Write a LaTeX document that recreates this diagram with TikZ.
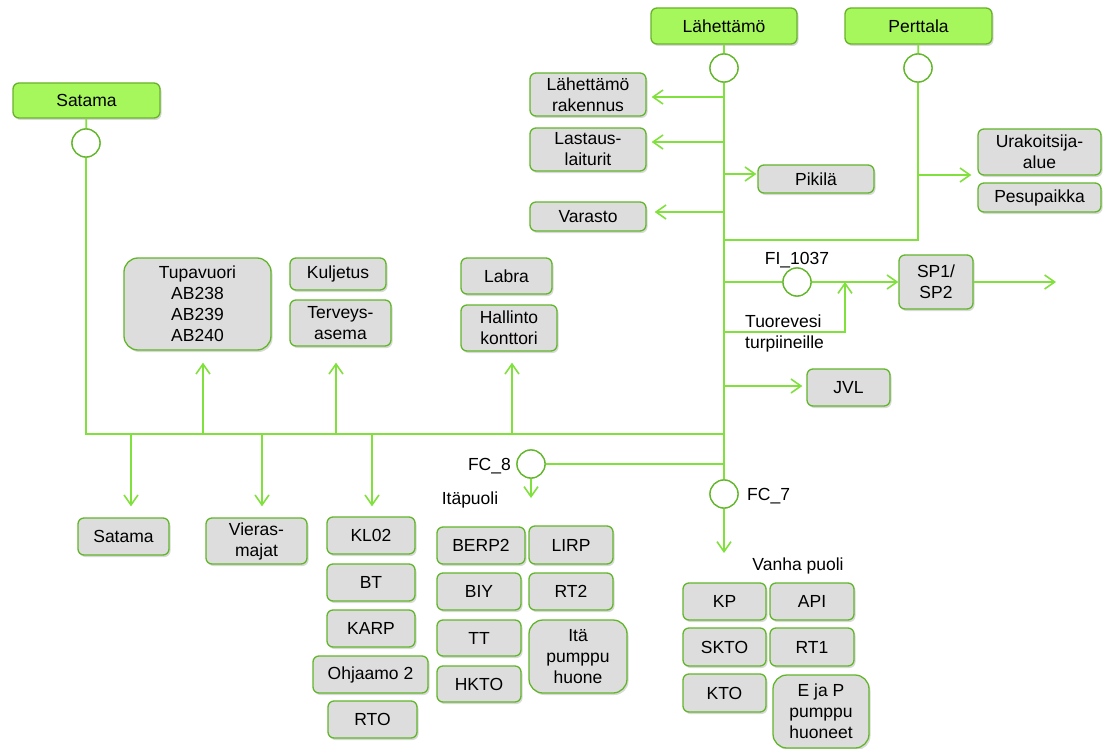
\documentclass[tikz,border=0pt]{standalone}
\usepackage{fontspec}
\setmainfont{Liberation Sans}
\usetikzlibrary{arrows.meta,shadows}

\definecolor{hdrfill}{HTML}{A6F75C}
\definecolor{hdrdraw}{HTML}{68B22A}
\definecolor{boxfill}{HTML}{DDDDDD}
\definecolor{boxdraw}{HTML}{62B62A}
\definecolor{pipe}{HTML}{80E03C}
\definecolor{meter}{HTML}{62B62A}

\tikzset{
  hdr/.style={draw=hdrdraw, line width=1.3pt, fill=hdrfill, rounded corners=6pt,
    inner sep=0pt, align=center,
    drop shadow={shadow xshift=1.5pt, shadow yshift=-2pt, opacity=0.3}},
  gbox/.style={draw=boxdraw, line width=1.3pt, fill=boxfill, rounded corners=6pt,
    inner sep=0pt, align=center,
    drop shadow={shadow xshift=1.5pt, shadow yshift=-2pt, opacity=0.3}},
  bigbox/.style={gbox, rounded corners=14pt},
  meterc/.style={circle, draw=meter, line width=1.3pt, fill=white, inner sep=0pt,
    minimum size=28pt},
  pipeline/.style={draw=pipe, line width=1.8pt},
  flow/.style={pipeline, -{Straight Barb[length=10pt,width=14pt,line width=1.6pt]}},
  lbl/.style={inner sep=0pt, align=left}
}

% box by its corners: style, name, x1, y1, x2, y2, text
\newcommand\cornerbox[7]{%
  \node[#1, minimum width={(#5-#3)*1pt}, minimum height={(#6-#4)*1pt}]
    (#2) at ({(#3+#5)/2},{(#4+#6)/2}) {#7};}

\begin{document}
\begin{tikzpicture}[x=1pt,y=-1pt,font=\fontsize{17.5pt}{21pt}\selectfont]
\useasboundingbox (0,0) rectangle (1103,749);

% ---- sources ----
\cornerbox{hdr}{hSat}{13}{83}{160}{118}{Satama}
\cornerbox{hdr}{hLah}{651}{8}{797}{44}{Lähettämö}
\cornerbox{hdr}{hPer}{845}{8}{992}{44}{Perttala}

% ---- meters ----
\node[meterc] (cSat) at (86,143) {};
\node[meterc] (cLah) at (724,68) {};
\node[meterc] (cPer) at (918,68) {};
\node[meterc] (cFI) at (797,282) {};
\node[meterc] (cFC8) at (531,464) {};
\node[meterc] (cFC7) at (724,494) {};

% ---- consumers, upper right ----
\cornerbox{gbox}{rak}{530}{73}{646}{116}{Lähettämö\\rakennus}
\cornerbox{gbox}{las}{530}{128}{646}{171}{Lastaus-\\laiturit}
\cornerbox{gbox}{pik}{758}{165}{874}{193}{Pikilä}
\cornerbox{gbox}{var}{530}{202}{646}{231}{Varasto}
\cornerbox{gbox}{ura}{978}{129}{1101}{175}{Urakoitsija-\\alue}
\cornerbox{gbox}{pes}{978}{183}{1101}{212}{Pesupaikka}
\cornerbox{gbox}{sp}{899}{255}{973}{309}{SP1/\\SP2}
\cornerbox{gbox}{jvl}{807}{369}{890}{406}{JVL}

% ---- consumers along the lower main ----
\cornerbox{bigbox}{tup}{124}{258}{271}{350}{Tupavuori\\AB238\\AB239\\AB240}
\cornerbox{gbox}{kul}{290}{258}{386}{290}{Kuljetus}
\cornerbox{gbox}{ter}{290}{300}{391}{346}{Terveys-\\asema}
\cornerbox{gbox}{lab}{461}{258}{552}{294}{Labra}
\cornerbox{gbox}{hal}{461}{305}{557}{351}{Hallinto\\konttori}
\cornerbox{gbox}{sat}{78}{518}{169}{555}{Satama}
\cornerbox{gbox}{vie}{206}{518}{307}{564}{Vieras-\\majat}
\cornerbox{gbox}{kl}{327}{517}{415}{554}{KL02}
\cornerbox{gbox}{bt}{327}{564}{415}{601}{BT}
\cornerbox{gbox}{karp}{327}{610}{415}{647}{KARP}
\cornerbox{gbox}{ohj}{313}{656}{428}{693}{Ohjaamo 2}
\cornerbox{gbox}{rto}{328}{701}{417}{738}{RTO}

% ---- east side (Itäpuoli) ----
\cornerbox{gbox}{berp}{437}{527}{525}{564}{BERP2}
\cornerbox{gbox}{lirp}{529}{526}{613}{564}{LIRP}
\cornerbox{gbox}{biy}{437}{573}{521}{610}{BIY}
\cornerbox{gbox}{rt2}{529}{573}{613}{610}{RT2}
\cornerbox{gbox}{tt}{437}{620}{521}{656}{TT}
\cornerbox{bigbox}{ita}{529}{620}{627}{693}{Itä\\pumppu\\huone}
\cornerbox{gbox}{hkto}{437}{666}{521}{702}{HKTO}

% ---- old side (Vanha puoli) ----
\cornerbox{gbox}{kp}{683}{583}{766}{620}{KP}
\cornerbox{gbox}{api}{770}{583}{854}{620}{API}
\cornerbox{gbox}{skto}{683}{628}{766}{666}{SKTO}
\cornerbox{gbox}{rt1}{770}{628}{854}{666}{RT1}
\cornerbox{gbox}{kto}{683}{674}{766}{712}{KTO}
\cornerbox{bigbox}{ejp}{773}{675}{869}{748}{E ja P\\pumppu\\huoneet}

% ---- labels ----
\node[lbl] (lFI) at (797,260) {FI\_1037};
\node[lbl, anchor=west] (lTuo) at (745,333) {Tuorevesi\\turpiineille};
\node[lbl, anchor=east] (lFC8) at (511,466) {FC\_8};
\node[lbl] (lIta) at (470,500) {Itäpuoli};
\node[lbl, anchor=west] (lFC7) at (747,496) {FC\_7};
\node[lbl] (lVan) at (798,566) {Vanha puoli};

% ---- junction points ----
\coordinate (busL) at (86,434);
\coordinate (busR) at (724,434);
\coordinate (pCorner) at (918,240);
\coordinate (pJoin) at (724,240);
\coordinate (t1) at (724,97);
\coordinate (t2) at (724,142);
\coordinate (t3) at (724,174);
\coordinate (t4) at (724,212);
\coordinate (tFI) at (724,282);
\coordinate (tTuo) at (724,332);
\coordinate (tTuoC) at (845,332);
\coordinate (tTuoE) at (845,282);
\coordinate (tJvl) at (724,386);
\coordinate (t8) at (724,464);
\coordinate (pUra) at (918,175);
\coordinate (spOut) at (1056,282);
\coordinate (d8) at (531,498);
\coordinate (d7) at (724,553);
\coordinate (bTup) at (203,434);
\coordinate (bTer) at (336,434);
\coordinate (bHal) at (512,434);
\coordinate (bSat) at (131,434);
\coordinate (bVie) at (262,434);
\coordinate (bKl) at (372,434);

% ---- pipes ----
\draw[pipeline] (hSat) -- (cSat);
\draw[pipeline] (cSat) -- (busL) -- (busR);
\draw[pipeline] (hLah) -- (cLah);
\draw[pipeline] (cLah) -- (cFC7);
\draw[pipeline] (hPer) -- (cPer);
\draw[pipeline] (cPer) -- (pCorner) -- (pJoin);

\draw[flow, shorten >=5pt] (t1) -- (t1 -| rak.east);
\draw[flow, shorten >=5pt] (t2) -- (t2 -| las.east);
\draw[flow, shorten >=1pt] (t3) -- (t3 -| pik.west);
\draw[flow, shorten >=8pt] (t4) -- (t4 -| var.east);
\draw[flow, shorten >=6pt] (pUra) -- (pUra -| ura.west);

\draw[pipeline] (tFI) -- (cFI);
\draw[flow] (cFI) -- (sp.west);
\draw[flow] (sp.east) -- (spOut);
\draw[flow] (tTuo) -- (tTuoC) -- (tTuoE);
\draw[flow, shorten >=4pt] (tJvl) -- (tJvl -| jvl.west);

\draw[flow, shorten >=12pt] (bTup) -- (bTup |- tup.south);
\draw[flow, shorten >=16pt] (bTer) -- (bTer |- ter.south);
\draw[flow, shorten >=11pt] (bHal) -- (bHal |- hal.south);
\draw[flow, shorten >=11pt] (bSat) -- (bSat |- sat.north);
\draw[flow, shorten >=11pt] (bVie) -- (bVie |- vie.north);
\draw[flow, shorten >=10pt] (bKl) -- (bKl |- kl.north);

\draw[pipeline] (t8) -- (cFC8);
\draw[flow] (cFC8) -- (d8);
\draw[flow] (cFC7) -- (d7);

% meters drawn again on top of the pipes
\foreach \m in {cSat,cLah,cPer,cFI,cFC8,cFC7}
  \node[meterc] at (\m) {};
\end{tikzpicture}
\end{document}
